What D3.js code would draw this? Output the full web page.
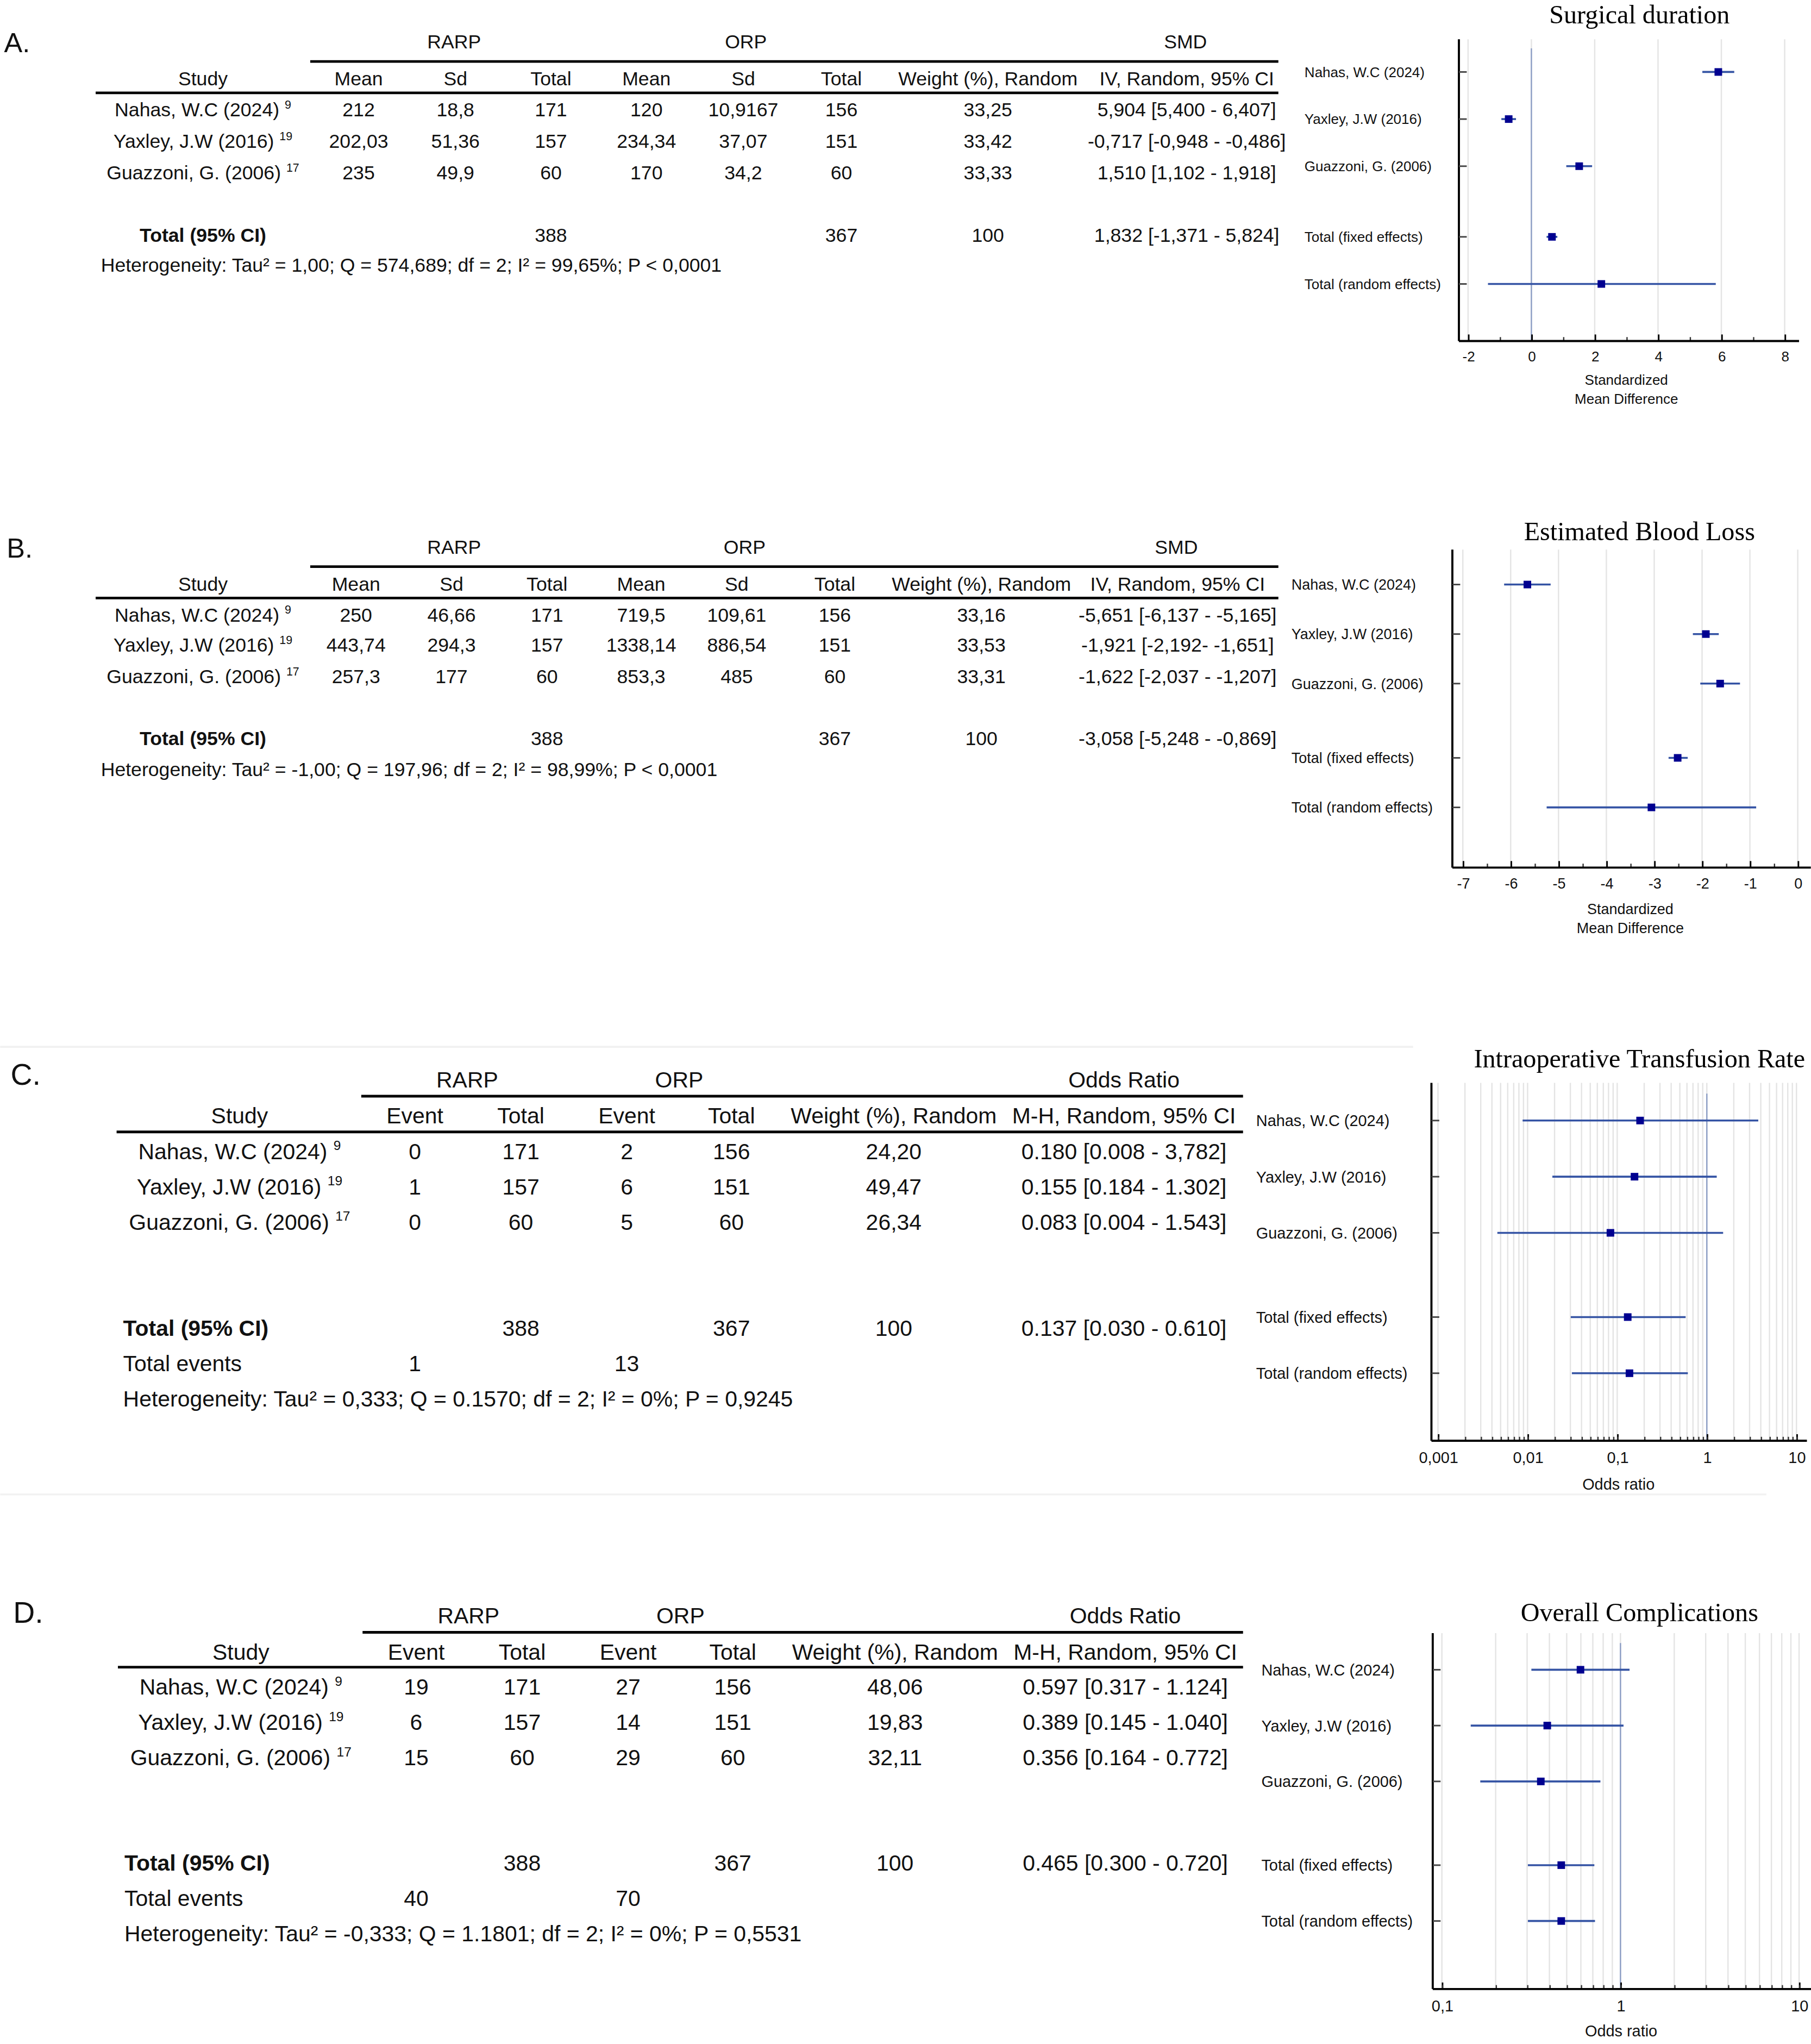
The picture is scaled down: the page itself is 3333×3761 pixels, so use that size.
<!DOCTYPE html>
<html>
<head>
<meta charset="utf-8">
<script src="https://cdn.jsdelivr.net/npm/d3@7"></script>
<style>
  body { margin: 0; background: #fff; }
  text { font-family: "Liberation Sans", Arial, sans-serif; }
</style>
</head>
<body>
<script>
// ---- data ----
const studies = ["Nahas, W.C (2024)", "Yaxley, J.W (2016)", "Guazzoni, G. (2006)"];
const studyRefs = ["9", "19", "17"];
const plotLabels = ["Nahas, W.C (2024)", "Yaxley, J.W (2016)", "Guazzoni, G. (2006)", "Total (fixed effects)", "Total (random effects)"];

const smdGroups = ["RARP", "ORP", "SMD"];
const orGroups = ["RARP", "ORP", "Odds Ratio"];
const smdHeaders = ["Study", "Mean", "Sd", "Total", "Mean", "Sd", "Total", "Weight (%), Random", "IV, Random, 95% CI"];
const orHeaders = ["Study", "Event", "Total", "Event", "Total", "Weight (%), Random", "M-H, Random, 95% CI"];
const rarpTotal = ["171", "157", "60"];
const orpTotal = ["156", "151", "60"];

// A. surgical duration
const aRarpMean = ["212", "202,03", "235"];
const aRarpSd = ["18,8", "51,36", "49,9"];
const aOrpMean = ["120", "234,34", "170"];
const aOrpSd = ["10,9167", "37,07", "34,2"];
const aWeight = ["33,25", "33,42", "33,33"];
const aEffect = ["5,904 [5,400 - 6,407]", "-0,717 [-0,948 - -0,486]", "1,510 [1,102 - 1,918]"];
const aTotals = ["388", "367", "100", "1,832 [-1,371 - 5,824]"];
const aHet = "Heterogeneity: Tau² = 1,00; Q = 574,689; df = 2; I² = 99,65%; P < 0,0001";
const aEst = [5.904, -0.717, 1.510, 0.65, 2.21];
const aLo = [5.400, -0.948, 1.102, 0.48, -1.371];
const aHi = [6.407, -0.486, 1.918, 0.82, 5.824];
const aTicks = [-2, 0, 2, 4, 6, 8];
const aMinor = [-1, 1, 3, 5, 7];

// B. estimated blood loss
const bRarpMean = ["250", "443,74", "257,3"];
const bRarpSd = ["46,66", "294,3", "177"];
const bOrpMean = ["719,5", "1338,14", "853,3"];
const bOrpSd = ["109,61", "886,54", "485"];
const bWeight = ["33,16", "33,53", "33,31"];
const bEffect = ["-5,651 [-6,137 - -5,165]", "-1,921 [-2,192- -1,651]", "-1,622 [-2,037 - -1,207]"];
const bTotals = ["388", "367", "100", "-3,058 [-5,248 - -0,869]"];
const bHet = "Heterogeneity: Tau² = -1,00; Q = 197,96; df = 2; I² = 98,99%; P < 0,0001";
const bEst = [-5.651, -1.921, -1.622, -2.51, -3.058];
const bLo = [-6.137, -2.192, -2.037, -2.70, -5.248];
const bHi = [-5.165, -1.651, -1.207, -2.30, -0.869];
const bTicks = [-7, -6, -5, -4, -3, -2, -1, 0];
const bMinor = [-6.5, -5.5, -4.5, -3.5, -2.5, -1.5, -0.5];

// C. intraoperative transfusion rate
const cRarpEvent = ["0", "1", "0"];
const cOrpEvent = ["2", "6", "5"];
const cWeight = ["24,20", "49,47", "26,34"];
const cEffect = ["0.180 [0.008 - 3,782]", "0.155 [0.184 - 1.302]", "0.083 [0.004 - 1.543]"];
const cTotals = ["388", "367", "100", "0.137 [0.030 - 0.610]"];
const cEvents = ["1", "13"];
const cHet = "Heterogeneity: Tau² = 0,333; Q = 0.1570; df = 2; I² = 0%; P = 0,9245";
const cEst = [0.180, 0.156, 0.084, 0.131, 0.137];
const cLo = [0.0088, 0.0189, 0.0046, 0.0303, 0.0312];
const cHi = [3.75, 1.29, 1.52, 0.58, 0.614];
const cTicks = [0.001, 0.01, 0.1, 1, 10];
const cTickLabels = ["0,001", "0,01", "0,1", "1", "10"];

// D. overall complications
const dRarpEvent = ["19", "6", "15"];
const dOrpEvent = ["27", "14", "29"];
const dWeight = ["48,06", "19,83", "32,11"];
const dEffect = ["0.597 [0.317 - 1.124]", "0.389 [0.145 - 1.040]", "0.356 [0.164 - 0.772]"];
const dTotals = ["388", "367", "100", "0.465 [0.300 - 0.720]"];
const dEvents = ["40", "70"];
const dHet = "Heterogeneity: Tau² = -0,333; Q = 1.1801; df = 2; I² = 0%; P = 0,5531";
const dEst = [0.597, 0.389, 0.358, 0.466, 0.466];
const dLo = [0.317, 0.145, 0.164, 0.303, 0.303];
const dHi = [1.124, 1.040, 0.772, 0.714, 0.72];
const dTicks = [0.1, 1, 10];
const dTickLabels = ["0,1", "1", "10"];

// ---- canvas ----
const W = 1384, H = 1562;
const svg = d3.select("body").append("svg")
    .attr("width", 3333)
    .attr("height", 3761)
    .attr("viewBox", `0 0 ${W} ${H}`);

const logMinor = (lo, hi) => {
    const out = [];
    for (let e = Math.log10(lo); e < Math.log10(hi) - 0.01; e++)
        for (let k = 1; k < 10; k++) out.push(k * Math.pow(10, e));
    out.push(hi);
    return out;
};

function drawTable(t) {
    const g = svg.append("g").style("font-size", t.fs + "px").attr("fill", "#111");
    g.append("text").attr("x", t.letterX).attr("y", t.letterY)
        .style("font-size", t.letterFs + "px").text(t.letter);

    t.groups.forEach((name, i) => {
        g.append("text").attr("x", t.groupX[i]).attr("y", t.groupY)
            .attr("text-anchor", "middle").text(name);
    });
    g.append("line")
        .attr("x1", t.groupLine[0]).attr("x2", t.groupLine[1])
        .attr("y1", t.groupLineY).attr("y2", t.groupLineY)
        .attr("stroke", "#000").attr("stroke-width", 2);

    t.headers.forEach((h, i) => {
        g.append("text").attr("x", t.colX[i]).attr("y", t.headerY)
            .attr("text-anchor", "middle").text(h);
    });
    g.append("line")
        .attr("x1", t.headLine[0]).attr("x2", t.headLine[1])
        .attr("y1", t.headLineY).attr("y2", t.headLineY)
        .attr("stroke", "#000").attr("stroke-width", 2);

    t.rowY.forEach((yy, r) => {
        const s = g.append("text").attr("x", t.colX[0]).attr("y", yy).attr("text-anchor", "middle");
        s.append("tspan").text(studies[r] + " ");
        s.append("tspan").attr("dy", -t.fs * 0.4).style("font-size", (t.fs * 0.6) + "px").text(studyRefs[r]);
        t.cols.forEach((col, c) => {
            g.append("text").attr("x", t.colX[c + 1]).attr("y", yy)
                .attr("text-anchor", "middle").text(col[r]);
        });
    });

    const tl = g.append("text").attr("y", t.totalY).style("font-weight", "bold").text("Total (95% CI)");
    if (t.totalCentered) tl.attr("x", t.colX[0]).attr("text-anchor", "middle");
    else tl.attr("x", t.leftX);
    t.totals.forEach((v, i) => {
        g.append("text").attr("x", t.colX[t.totalCols[i]]).attr("y", t.totalY)
            .attr("text-anchor", "middle").text(v);
    });

    if (t.events) {
        g.append("text").attr("x", t.leftX).attr("y", t.eventsY).text("Total events");
        t.events.forEach((v, i) => {
            g.append("text").attr("x", t.colX[t.eventCols[i]]).attr("y", t.eventsY)
                .attr("text-anchor", "middle").text(v);
        });
    }
    g.append("text").attr("x", t.leftX).attr("y", t.hetY).text(t.het);
}

function drawForest(p) {
    const g = svg.append("g");
    const x = (p.log ? d3.scaleLog() : d3.scaleLinear()).domain(p.domain).range(p.range);
    const slot = [0, 1, 2, 3.5, 4.5];
    const y = d3.scaleLinear().domain([0, 4.5]).range([p.rowTop, p.rowBottom]);
    const rows = p.est.map((e, i) => ({ e: e, lo: p.lo[i], hi: p.hi[i], yy: y(slot[i]), label: plotLabels[i] }));

    g.append("text")
        .attr("x", 1253).attr("y", p.titleY)
        .attr("text-anchor", "middle")
        .style("font-family", "'Liberation Serif', 'Times New Roman', serif")
        .style("font-size", "20px")
        .attr("fill", "#000")
        .text(p.title);

    // grid
    g.selectAll(null).data(p.grid).join("line")
        .attr("x1", d => x(d)).attr("x2", d => x(d))
        .attr("y1", p.top).attr("y2", p.bottom)
        .attr("stroke", "#e4e4e4").attr("stroke-width", 1);

    if (p.ref != null) {
        g.append("line")
            .attr("x1", x(p.ref)).attr("x2", x(p.ref))
            .attr("y1", p.refTop).attr("y2", p.bottom)
            .attr("stroke", "#8d9ec6").attr("stroke-width", 1);
    }

    // confidence intervals
    g.selectAll(null).data(rows).join("line")
        .attr("x1", d => x(d.lo)).attr("x2", d => x(d.hi))
        .attr("y1", d => d.yy).attr("y2", d => d.yy)
        .attr("stroke", "#3453a4").attr("stroke-width", 1.5);

    const sq = 5.8;
    g.selectAll(null).data(rows).join("rect")
        .attr("x", d => x(d.e) - sq / 2).attr("y", d => d.yy - sq / 2)
        .attr("width", sq).attr("height", sq)
        .attr("fill", "#000090");

    // left axis + row ticks
    g.append("line")
        .attr("x1", p.axisX).attr("x2", p.axisX)
        .attr("y1", p.top).attr("y2", p.bottom)
        .attr("stroke", "#000").attr("stroke-width", 1.6);
    g.selectAll(null).data(rows).join("line")
        .attr("x1", p.axisX).attr("x2", p.axisX + 6)
        .attr("y1", d => d.yy).attr("y2", d => d.yy)
        .attr("stroke", "#444").attr("stroke-width", 1.2);

    // bottom axis
    const ax = g.append("g").attr("transform", `translate(0,${p.bottom})`)
        .call(d3.axisBottom(x).tickValues(p.ticks)
            .tickFormat((d, i) => p.tickLabels[i])
            .tickSize(-5).tickPadding(p.tickPad));
    ax.select(".domain").remove();
    ax.selectAll("line").attr("stroke", "#000").attr("stroke-width", 1.2);
    ax.selectAll("text").attr("fill", "#111")
        .style("font-family", "'Liberation Sans', Arial, sans-serif")
        .style("font-size", p.fs + "px");

    const mx = g.append("g").attr("transform", `translate(0,${p.bottom})`)
        .call(d3.axisBottom(x).tickValues(p.minor).tickFormat("").tickSize(-3));
    mx.select(".domain").remove();
    mx.selectAll("line").attr("stroke", "#333").attr("stroke-width", 1);

    g.append("line")
        .attr("x1", p.axisX).attr("x2", p.axisEnd)
        .attr("y1", p.bottom).attr("y2", p.bottom)
        .attr("stroke", "#000").attr("stroke-width", 1.6);

    g.selectAll(null).data(rows).join("text")
        .attr("x", p.labelX).attr("y", d => d.yy + p.fs * 0.36)
        .style("font-size", p.fs + "px").attr("fill", "#111")
        .text(d => d.label);

    p.axisTitle.forEach((s, i) => {
        g.append("text").attr("x", p.axisTitleX).attr("y", p.axisTitleY[i])
            .attr("text-anchor", "middle").style("font-size", p.fs + "px").attr("fill", "#111")
            .text(s);
    });
}

// faint frame lines around panel C
svg.append("line").attr("x1", 0).attr("x2", 1080).attr("y1", 800).attr("y2", 800)
    .attr("stroke", "#f0f0f0").attr("stroke-width", 1.5);
svg.append("line").attr("x1", 0).attr("x2", 1350).attr("y1", 1142).attr("y2", 1142)
    .attr("stroke", "#f2f2f2").attr("stroke-width", 1.5);

// ---- panel A ----
drawTable({
    letter: "A.", letterX: 3, letterY: 40, letterFs: 21, fs: 14.8,
    groups: smdGroups, groupX: [347, 570, 906], groupY: 37,
    groupLine: [237, 977], groupLineY: 47,
    headers: smdHeaders, colX: [155, 274, 348, 421, 494, 568, 643, 755, 907], headerY: 65,
    headLine: [73, 977], headLineY: 71,
    rowY: [89, 113, 137],
    cols: [aRarpMean, aRarpSd, rarpTotal, aOrpMean, aOrpSd, orpTotal, aWeight, aEffect],
    totals: aTotals, totalCols: [3, 6, 7, 8], totalY: 185, totalCentered: true,
    leftX: 77, het: aHet, hetY: 207.5
});
drawForest({
    title: "Surgical duration", titleY: 18,
    domain: [-2, 8], range: [1122, 1364], log: false,
    axisX: 1115, axisEnd: 1375, top: 30, bottom: 260.6,
    rowTop: 55, rowBottom: 217, labelX: 997, fs: 10.8,
    est: aEst, lo: aLo, hi: aHi,
    ticks: aTicks, tickLabels: aTicks.map(String), minor: aMinor, grid: aTicks, tickPad: 7.8,
    ref: 0, refTop: 37,
    axisTitle: ["Standardized", "Mean Difference"], axisTitleX: 1243, axisTitleY: [294, 308.5]
});

// ---- panel B ----
drawTable({
    letter: "B.", letterX: 5, letterY: 426, letterFs: 21, fs: 14.8,
    groups: smdGroups, groupX: [347, 569, 899], groupY: 423,
    groupLine: [237, 977], groupLineY: 433,
    headers: smdHeaders, colX: [155, 272, 345, 418, 490, 563, 638, 750, 900], headerY: 451.5,
    headLine: [73, 977], headLineY: 457,
    rowY: [475, 498, 522],
    cols: [bRarpMean, bRarpSd, rarpTotal, bOrpMean, bOrpSd, orpTotal, bWeight, bEffect],
    totals: bTotals, totalCols: [3, 6, 7, 8], totalY: 569.5, totalCentered: true,
    leftX: 77, het: bHet, hetY: 593
});
drawForest({
    title: "Estimated Blood Loss", titleY: 413,
    domain: [-7, 0], range: [1118, 1374], log: false,
    axisX: 1110, axisEnd: 1384, top: 420, bottom: 663,
    rowTop: 446.7, rowBottom: 617, labelX: 987, fs: 11.2,
    est: bEst, lo: bLo, hi: bHi,
    ticks: bTicks, tickLabels: bTicks.map(String), minor: bMinor, grid: bTicks, tickPad: 8.2,
    ref: null,
    axisTitle: ["Standardized", "Mean Difference"], axisTitleX: 1246, axisTitleY: [698.5, 713]
});

// ---- panel C ----
drawTable({
    letter: "C.", letterX: 8, letterY: 829, letterFs: 23, fs: 17,
    groups: orGroups, groupX: [357, 519, 859], groupY: 831,
    groupLine: [276, 950], groupLineY: 837.7,
    headers: orHeaders, colX: [183, 317, 398, 479, 559, 683, 859], headerY: 858.5,
    headLine: [89, 950], headLineY: 865,
    rowY: [885.8, 912.8, 939.8],
    cols: [cRarpEvent, rarpTotal, cOrpEvent, orpTotal, cWeight, cEffect],
    totals: cTotals, totalCols: [2, 4, 5, 6], totalY: 1021, totalCentered: false,
    events: cEvents, eventCols: [1, 3], eventsY: 1048,
    leftX: 94, het: cHet, hetY: 1075
});
drawForest({
    title: "Intraoperative Transfusion Rate", titleY: 815.5,
    domain: [0.001, 10], range: [1099, 1373], log: true,
    axisX: 1094, axisEnd: 1381, top: 827.5, bottom: 1101,
    rowTop: 856.3, rowBottom: 1049.4, labelX: 960, fs: 12,
    est: cEst, lo: cLo, hi: cHi,
    ticks: cTicks, tickLabels: cTickLabels, minor: logMinor(0.001, 10), grid: logMinor(0.001, 10), tickPad: 8.7,
    ref: 1, refTop: 835.7,
    axisTitle: ["Odds ratio"], axisTitleX: 1237, axisTitleY: [1138.3]
});

// ---- panel D ----
drawTable({
    letter: "D.", letterX: 10, letterY: 1240, letterFs: 23, fs: 17,
    groups: orGroups, groupX: [358, 520, 860], groupY: 1240.5,
    groupLine: [277, 950], groupLineY: 1247.4,
    headers: orHeaders, colX: [184, 318, 399, 480, 560, 684, 860], headerY: 1268.2,
    headLine: [90, 950], headLineY: 1274,
    rowY: [1295, 1322, 1349],
    cols: [dRarpEvent, rarpTotal, dOrpEvent, orpTotal, dWeight, dEffect],
    totals: dTotals, totalCols: [2, 4, 5, 6], totalY: 1429.5, totalCentered: false,
    events: dEvents, eventCols: [1, 3], eventsY: 1456.4,
    leftX: 95, het: dHet, hetY: 1483.3
});
drawForest({
    title: "Overall Complications", titleY: 1239,
    domain: [0.1, 10], range: [1102, 1375], log: true,
    axisX: 1095, axisEnd: 1385, top: 1248, bottom: 1520,
    rowTop: 1276, rowBottom: 1468, labelX: 964, fs: 12,
    est: dEst, lo: dLo, hi: dHi,
    ticks: dTicks, tickLabels: dTickLabels, minor: logMinor(0.1, 10), grid: logMinor(0.1, 10), tickPad: 8.7,
    ref: 1, refTop: 1255.6,
    axisTitle: ["Odds ratio"], axisTitleX: 1239, axisTitleY: [1556]
});
</script>
</body>
</html>
